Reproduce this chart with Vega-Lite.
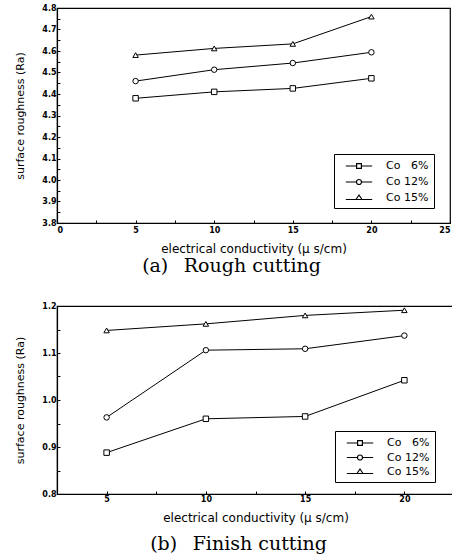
{
  "$schema": "https://vega.github.io/schema/vega-lite/v6.json",
  "background": "white",
  "padding": {"left": 14, "top": 3, "right": 0, "bottom": 0},
  "spacing": 24,
  "config": {
    "view": {"stroke": "black", "strokeWidth": 1.2},
    "axis": {
      "domainColor": "black", "domainWidth": 1.2, "tickColor": "black", "tickSize": -3, "tickWidth": 1,
      "labelFont": "DejaVu Sans", "labelFontSize": 8, "labelFontWeight": "bold", "labelColor": "black",
      "titleFont": "DejaVu Sans", "titleFontSize": 11, "titleFontWeight": "normal", "titleColor": "black",
      "grid": false
    },
    "axisX": {"titleFontSize": 12},
    "legend": {
      "labelFont": "DejaVu Sans", "labelFontSize": 11, "labelColor": "black",
      "strokeColor": "black", "padding": 5, "symbolOffset": 13, "labelOffset": 20
    },
    "title": {"font": "DejaVu Serif", "fontSize": 19, "fontWeight": "normal", "color": "black"}
  },
  "datasets": {
    "rough": [
      {"ec": 5, "ra": 4.38, "series": "Co 6%"},
      {"ec": 10, "ra": 4.41, "series": "Co 6%"},
      {"ec": 15, "ra": 4.426, "series": "Co 6%"},
      {"ec": 20, "ra": 4.473, "series": "Co 6%"},
      {"ec": 5, "ra": 4.46, "series": "Co 12%"},
      {"ec": 10, "ra": 4.513, "series": "Co 12%"},
      {"ec": 15, "ra": 4.544, "series": "Co 12%"},
      {"ec": 20, "ra": 4.594, "series": "Co 12%"},
      {"ec": 5, "ra": 4.581, "series": "Co 15%"},
      {"ec": 10, "ra": 4.612, "series": "Co 15%"},
      {"ec": 15, "ra": 4.633, "series": "Co 15%"},
      {"ec": 20, "ra": 4.76, "series": "Co 15%"}
    ],
    "finish": [
      {"ec": 5, "ra": 0.888, "series": "Co 6%"},
      {"ec": 10, "ra": 0.96, "series": "Co 6%"},
      {"ec": 15, "ra": 0.965, "series": "Co 6%"},
      {"ec": 20, "ra": 1.042, "series": "Co 6%"},
      {"ec": 5, "ra": 0.963, "series": "Co 12%"},
      {"ec": 10, "ra": 1.106, "series": "Co 12%"},
      {"ec": 15, "ra": 1.109, "series": "Co 12%"},
      {"ec": 20, "ra": 1.137, "series": "Co 12%"},
      {"ec": 5, "ra": 1.148, "series": "Co 15%"},
      {"ec": 10, "ra": 1.162, "series": "Co 15%"},
      {"ec": 15, "ra": 1.18, "series": "Co 15%"},
      {"ec": 20, "ra": 1.191, "series": "Co 15%"}
    ]
  },
  "vconcat": [
    {
      "width": 393,
      "height": 215,
      "data": {"name": "rough"},
      "title": {"text": "(a)\u2002 Rough cutting", "orient": "bottom", "offset": 3, "dx": -22},
      "encoding": {
        "x": {"field": "ec", "type": "quantitative", "scale": {"domain": [0, 25], "nice": false},
          "axis": {"title": "electrical conductivity (μ s/cm)", "values": [0, 2.5, 5, 7.5, 10, 12.5, 15, 17.5, 20, 22.5, 25],
            "labelExpr": "datum.value % 5 == 0 ? format(datum.value, 'd') : ''", "labelPadding": 6, "titlePadding": 9}},
        "y": {"field": "ra", "type": "quantitative", "scale": {"domain": [3.8, 4.8], "nice": false, "zero": false},
          "axis": {"title": "surface roughness (Ra)", "values": [3.8, 3.85, 3.9, 3.95, 4.0, 4.05, 4.1, 4.15, 4.2, 4.25, 4.3, 4.35, 4.4, 4.45, 4.5, 4.55, 4.6, 4.65, 4.7, 4.75, 4.8],
            "labelExpr": "round(datum.value * 20) % 2 == 1 ? '' : format(datum.value, '.1f')", "labelPadding": 4, "titlePadding": 16}}
      },
      "layer": [
        {"mark": {"type": "line", "color": "black", "strokeWidth": 1}, "encoding": {"detail": {"field": "series"}}},
        {"mark": {"type": "point", "filled": true, "fill": "white", "stroke": "black", "strokeWidth": 1, "size": 30, "opacity": 1},
          "encoding": {"shape": {"field": "series", "type": "nominal", "scale": {"domain": ["Co 6%", "Co 12%", "Co 15%"], "range": ["square", "circle", "triangle-up"]}, "legend": null}}},
        {"mark": {"type": "point", "filled": false, "color": "black", "opacity": 0},
          "encoding": {"shape": {"field": "series", "type": "nominal",
            "scale": {"domain": ["Co 6%", "Co 12%", "Co 15%"], "range": [
              "M-2.2,0L-0.4,0L-0.4,-0.4L0.4,-0.4L0.4,0L2.2,0L0.4,0L0.4,0.4L-0.4,0.4L-0.4,0",
              "M-2.2,0L-0.42,0A0.42,0.42 0 0,1 0.42,0L2.2,0L0.42,0A0.42,0.42 0 0,1 -0.42,0",
              "M-2.2,0.25L-0.5,0.25L0,-0.5L0.5,0.25L2.2,0.25L-0.5,0.25"]},
            "legend": {"title": null, "orient": "none", "legendX": 277, "legendY": 146, "symbolSize": 144, "symbolOpacity": 1,
              "symbolStrokeColor": "black", "symbolFillColor": "white", "symbolStrokeWidth": 1.2, "rowPadding": 4,
              "labelExpr": "datum.label == 'Co 6%' ? 'Co \u20076%' : datum.label"}}}}
      ],
      "resolve": {"scale": {"shape": "independent"}, "legend": {"shape": "independent"}}
    },
    {
      "width": 397,
      "height": 188,
      "data": {"name": "finish"},
      "title": {"text": "(b)\u2002 Finish cutting", "orient": "bottom", "offset": 12, "dx": -17},
      "encoding": {
        "x": {"field": "ec", "type": "quantitative", "scale": {"domain": [2.5, 22.5], "nice": false, "zero": false},
          "axis": {"title": "electrical conductivity (μ s/cm)", "values": [2.5, 5, 7.5, 10, 12.5, 15, 17.5, 20, 22.5],
            "labelExpr": "datum.value % 5 == 0 ? format(datum.value, 'd') : ''", "labelPadding": 4, "titlePadding": 9}},
        "y": {"field": "ra", "type": "quantitative", "scale": {"domain": [0.8, 1.2], "nice": false, "zero": false},
          "axis": {"title": "surface roughness (Ra)", "values": [0.8, 0.85, 0.9, 0.95, 1.0, 1.05, 1.1, 1.15, 1.2],
            "labelExpr": "round(datum.value * 20) % 2 == 1 ? '' : format(datum.value, '.1f')", "labelPadding": 4, "titlePadding": 16}}
      },
      "layer": [
        {"mark": {"type": "line", "color": "black", "strokeWidth": 1}, "encoding": {"detail": {"field": "series"}}},
        {"mark": {"type": "point", "filled": true, "fill": "white", "stroke": "black", "strokeWidth": 1, "size": 30, "opacity": 1},
          "encoding": {"shape": {"field": "series", "type": "nominal", "scale": {"domain": ["Co 6%", "Co 12%", "Co 15%"], "range": ["square", "circle", "triangle-up"]}, "legend": null}}},
        {"mark": {"type": "point", "filled": false, "color": "black", "opacity": 0},
          "encoding": {"shape": {"field": "series", "type": "nominal",
            "scale": {"domain": ["Co 6%", "Co 12%", "Co 15%"], "range": [
              "M-2.2,0L-0.4,0L-0.4,-0.4L0.4,-0.4L0.4,0L2.2,0L0.4,0L0.4,0.4L-0.4,0.4L-0.4,0",
              "M-2.2,0L-0.42,0A0.42,0.42 0 0,1 0.42,0L2.2,0L0.42,0A0.42,0.42 0 0,1 -0.42,0",
              "M-2.2,0.25L-0.5,0.25L0,-0.5L0.5,0.25L2.2,0.25L-0.5,0.25"]},
            "legend": {"title": null, "orient": "none", "legendX": 278, "legendY": 125, "symbolSize": 144, "symbolOpacity": 1,
              "symbolStrokeColor": "black", "symbolFillColor": "white", "symbolStrokeWidth": 1.2, "rowPadding": 2.5,
              "labelExpr": "datum.label == 'Co 6%' ? 'Co \u20076%' : datum.label"}}}}
      ],
      "resolve": {"scale": {"shape": "independent"}, "legend": {"shape": "independent"}}
    }
  ]
}
